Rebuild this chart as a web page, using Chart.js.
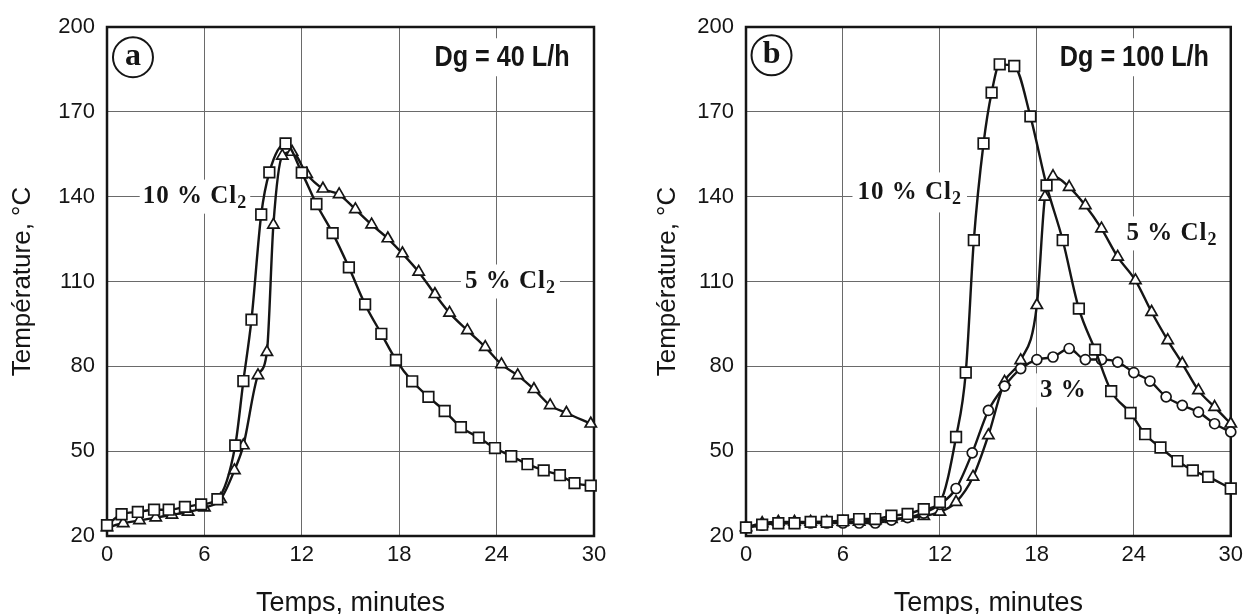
<!DOCTYPE html>
<html>
<head>
<meta charset="utf-8">
<script src="https://cdn.jsdelivr.net/npm/chart.js@4/dist/chart.umd.min.js"></script>
<style>
  body { margin: 0; background: #fff; }
  .wrap { position: absolute; top: 0; }
</style>
</head>
<body>
<div class="wrap" style="left:0"><canvas id="chartA" width="620" height="614"></canvas></div>
<div class="wrap" style="left:620px"><canvas id="chartB" width="629" height="614"></canvas></div>
<script>
// ---- data (minutes, °C) ----
const xTicks = [0, 6, 12, 18, 24, 30];
const yTicks = [20, 50, 80, 110, 140, 170, 200];

// panel a : Dg = 40 L/h
const a10Time = [0, 0.9, 1.9, 2.9, 3.8, 4.8, 5.8, 6.8, 7.9, 8.4, 8.9, 9.5, 10, 11, 12, 12.9, 13.9, 14.9, 15.9, 16.9, 17.8, 18.8, 19.8, 20.8, 21.8, 22.9, 23.9, 24.9, 25.9, 26.9, 27.9, 28.8, 29.8];
const a10Temp = [23.8, 27.7, 28.5, 29.3, 29.3, 30.3, 31.2, 33, 52, 74.8, 96.5, 133.7, 148.6, 158.8, 148.5, 137.4, 127.1, 115, 101.9, 91.5, 82.3, 74.7, 69.2, 64.2, 58.5, 54.8, 51.1, 48.2, 45.4, 43.2, 41.5, 38.7, 37.8];
const a5Time = [0, 1, 2, 3, 4, 5, 6, 7, 7.85, 8.4, 9.3, 9.85, 10.25, 10.8, 11.4, 12.3, 13.3, 14.3, 15.3, 16.3, 17.3, 18.2, 19.2, 20.2, 21.1, 22.2, 23.3, 24.3, 25.3, 26.3, 27.3, 28.3, 29.8];
const a5Temp = [23, 24.5, 25.5, 26.5, 27.5, 28.5, 30, 33, 43.2, 52, 76.8, 85, 130, 154.4, 155.8, 148, 142.8, 140.8, 135.5, 130.1, 125.2, 119.9, 113.4, 105.5, 98.9, 92.7, 86.8, 80.7, 76.8, 71.9, 66.2, 63.5, 59.7];

// panel b : Dg = 100 L/h
const b10Time = [0, 1, 2, 3, 4, 5, 6, 7, 8, 9, 10, 11, 12, 13, 13.6, 14.1, 14.7, 15.2, 15.7, 16.6, 17.6, 18.6, 19.6, 20.6, 21.6, 22.6, 23.8, 24.7, 25.65, 26.7, 27.65, 28.6, 30];
const b10Temp = [23, 24, 24.5, 24.5, 25, 25, 25.5, 26, 26, 27.2, 27.8, 29.5, 32, 55, 77.8, 124.6, 158.8, 176.8, 186.8, 186.2, 168.4, 144, 124.6, 100.4, 85.9, 71.2, 63.5, 56, 51.3, 46.5, 43.2, 40.9, 36.8];
const b5Time = [0, 1, 2, 3, 4, 5, 6, 7, 8, 9, 10, 11, 12, 13, 14.05, 15, 16, 17, 18, 18.5, 19, 20, 21, 22, 23, 24.1, 25.1, 26.1, 27, 28, 29, 30];
const b5Temp = [23, 24.5, 25, 25, 25, 25, 25, 25, 25.5, 26, 26.5, 27, 28.5, 32, 40.9, 55.6, 74.5, 82.1, 101.6, 139.9, 147.2, 143.4, 136.9, 128.7, 118.7, 110.4, 99.2, 89.2, 81, 71.5, 65.6, 59.7];
const b3Time = [0, 1, 2, 3, 4, 5, 6, 7, 8, 9, 10, 11, 12, 13, 14, 15, 16, 17, 18, 19, 20, 21, 22, 23, 24, 25, 26, 27, 28, 29, 30];
const b3Temp = [23, 23.8, 24.6, 24.6, 24.6, 24.6, 24.6, 24.6, 24.6, 25.6, 26.5, 28.1, 31.2, 36.8, 49.4, 64.4, 73, 79.2, 82.4, 83.3, 86.3, 82.4, 82.4, 81.5, 77.8, 74.8, 69.2, 66.2, 63.8, 59.7, 56.8];

const SANS = '"Liberation Sans", Arial, sans-serif';
const SERIF = '"Liberation Serif", "DejaVu Serif", serif';
const INK = '#151515';

function toPoints(xs, ys) {
    return xs.map((x, i) => ({ x: x, y: ys[i] }));
}

function series(label, xs, ys, style, radius) {
    return {
        label: label,
        data: toPoints(xs, ys),
        borderColor: INK,
        borderWidth: 2.4,
        pointStyle: style,
        pointRadius: radius,
        pointBorderWidth: 1.7,
        pointBorderColor: INK,
        pointBackgroundColor: '#fff',
        cubicInterpolationMode: 'monotone',
        clip: false
    };
}

// text labels, circled letter and the frame
const decorations = {
    id: 'decorations',
    beforeDatasetsDraw(chart, args, opts) {
        const { ctx, chartArea: ca } = chart;
        const xs = chart.scales.x, ys = chart.scales.y;
        ctx.save();
        opts.labels.forEach(lab => {
            const px = xs.getPixelForValue(lab.x);
            const py = ys.getPixelForValue(lab.y);
            const sq = lab.squeeze || 1;
            ctx.font = lab.font;
            ctx.letterSpacing = lab.spacing || '0px';
            const w1 = ctx.measureText(lab.text).width;
            let w2 = 0;
            if (lab.sub) {
                ctx.font = lab.subFont;
                w2 = ctx.measureText(lab.sub).width;
            }
            const total = (w1 + w2) * sq;
            const left = lab.align === 'right' ? px - total : px;
            ctx.fillStyle = '#fff';
            ctx.fillRect(left - lab.padX, py - lab.h / 2, total + 2 * lab.padX, lab.h);
            ctx.save();
            ctx.translate(left, py);
            ctx.scale(sq, 1);
            ctx.fillStyle = INK;
            ctx.textBaseline = 'middle';
            ctx.textAlign = 'left';
            ctx.font = lab.font;
            ctx.fillText(lab.text, 0, 0);
            if (lab.sub) {
                ctx.font = lab.subFont;
                ctx.fillText(lab.sub, w1, 7);
            }
            ctx.restore();
        });
        ctx.letterSpacing = '0px';

        // circled panel letter
        const cx = xs.getPixelForValue(opts.letter.x);
        const cy = ys.getPixelForValue(opts.letter.y);
        ctx.beginPath();
        ctx.arc(cx, cy, 20, 0, Math.PI * 2);
        ctx.fillStyle = '#fff';
        ctx.fill();
        ctx.lineWidth = 2;
        ctx.strokeStyle = INK;
        ctx.stroke();
        ctx.fillStyle = INK;
        ctx.font = 'bold 32px ' + SERIF;
        ctx.textAlign = 'center';
        ctx.textBaseline = 'middle';
        ctx.fillText(opts.letter.text, cx, cy - 1);

        // plot frame
        ctx.lineWidth = 2.5;
        ctx.strokeStyle = INK;
        ctx.strokeRect(ca.left, ca.top, ca.right - ca.left, ca.bottom - ca.top);
        ctx.restore();
    }
};

function makeOptions(axisWidth, titleOffset, padRight, labels, letter) {
    return {
        responsive: false,
        animation: false,
        layout: { padding: { left: 0, right: padRight, top: 27, bottom: 0 } },
        plugins: {
            legend: { display: false },
            tooltip: { enabled: false },
            decorations: { labels: labels, letter: letter }
        },
        scales: {
            x: {
                type: 'linear',
                min: 0,
                max: 30,
                afterBuildTicks: s => { s.ticks = xTicks.map(v => ({ value: v })); },
                afterFit: s => { s.height = 78; },
                grid: { color: '#6a6a6a', lineWidth: 1, drawTicks: false },
                border: { display: false },
                ticks: { color: INK, padding: 6, font: { family: SANS, size: 22 } },
                title: {
                    display: true,
                    text: 'Temps, minutes',
                    color: INK,
                    padding: { top: 0, bottom: 0 },
                    font: { family: SANS, size: 27, lineHeight: 0.8 }
                }
            },
            y: {
                min: 20,
                max: 200,
                afterBuildTicks: s => { s.ticks = yTicks.map(v => ({ value: v })); },
                afterFit: s => { s.width = axisWidth; },
                grid: { color: '#6a6a6a', lineWidth: 1, drawTicks: false },
                border: { display: false },
                ticks: { color: INK, padding: 12, font: { family: SANS, size: 22 } },
                title: {
                    display: true,
                    text: 'Température, °C',
                    color: INK,
                    padding: { top: titleOffset, bottom: 0 },
                    font: { family: SANS, size: 26, lineHeight: 1.2 }
                }
            }
        }
    };
}

const serifLab = 'bold 25px ' + SERIF;
const serifSub = 'bold 18px ' + SERIF;
const dgFont = 'bold 30px ' + SANS;

new Chart(document.getElementById('chartA'), {
    type: 'line',
    data: {
        datasets: [
            series('10 % Cl2', a10Time, a10Temp, 'rect', 7.5),
            series('5 % Cl2', a5Time, a5Temp, 'triangle', 6.5)
        ]
    },
    options: makeOptions(107, 7, 26, [
        { text: '10 % Cl', sub: '2', x: 2.2, y: 140, align: 'left', font: serifLab, subFont: serifSub, spacing: '1px', padX: 3, h: 34 },
        { text: '5 % Cl', sub: '2', x: 22.05, y: 110, align: 'left', font: serifLab, subFont: serifSub, spacing: '1px', padX: 4, h: 34 },
        { text: 'Dg = 40 L/h', x: 28.5, y: 189.3, align: 'right', font: dgFont, squeeze: 0.84, padX: 4, h: 38 }
    ], { text: 'a', x: 1.6, y: 189.3 }),
    plugins: [decorations]
});

new Chart(document.getElementById('chartB'), {
    type: 'line',
    data: {
        datasets: [
            series('10 % Cl2', b10Time, b10Temp, 'rect', 7.5),
            series('3 %', b3Time, b3Temp, 'circle', 5),
            series('5 % Cl2', b5Time, b5Temp, 'triangle', 6.5)
        ]
    },
    options: makeOptions(126, 32, 13, [
        { text: '10 % Cl', sub: '2', x: 6.9, y: 141.5, align: 'left', font: serifLab, subFont: serifSub, spacing: '1px', padX: 5, h: 40 },
        { text: '5 % Cl', sub: '2', x: 23.55, y: 127, align: 'left', font: serifLab, subFont: serifSub, spacing: '1px', padX: 4, h: 34 },
        { text: '3 %', x: 18.2, y: 71.5, align: 'left', font: serifLab, spacing: '1px', padX: 4, h: 34 },
        { text: 'Dg = 100 L/h', x: 28.65, y: 189.3, align: 'right', font: dgFont, squeeze: 0.84, padX: 4, h: 38 }
    ], { text: 'b', x: 1.58, y: 190 }),
    plugins: [decorations]
});
</script>
</body>
</html>
